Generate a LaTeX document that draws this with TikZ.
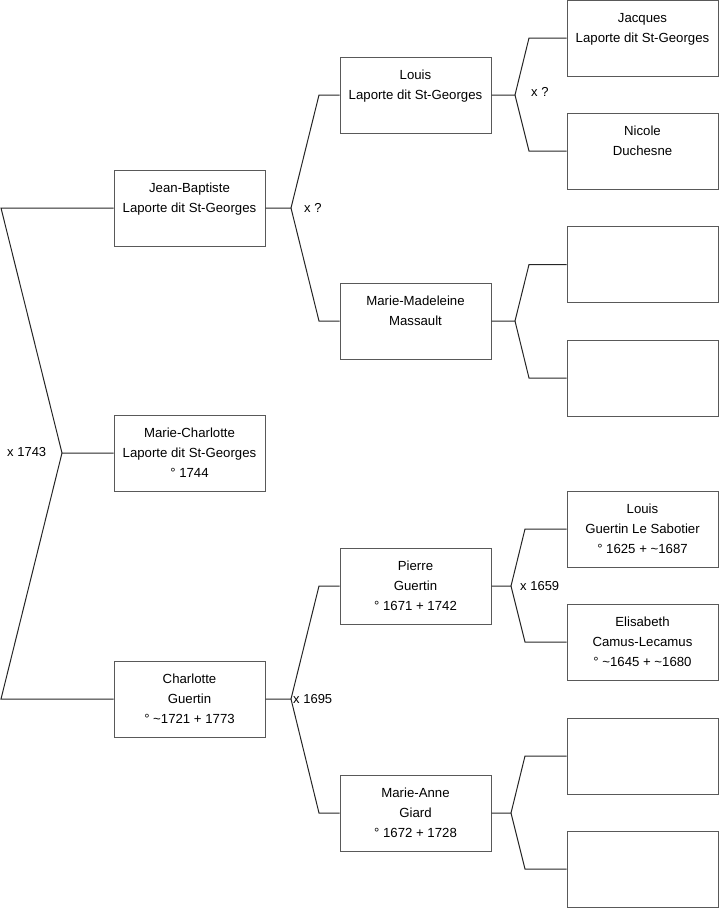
\documentclass[tikz,border=0pt]{standalone}
\usepackage{fontspec}
\setmainfont{Liberation Sans}
\begin{document}
\begin{tikzpicture}[x=1pt,y=-1pt,
  person/.style={draw=black!65, line width=1pt, fill=white, minimum width=151pt, minimum height=76pt, inner sep=0pt, align=center, font=\fontsize{13.2}{20}\selectfont},
  link/.style={draw=black!85, line width=1pt},
  marr/.style={font=\fontsize{13}{15}\selectfont, inner sep=0pt, anchor=west}]
\useasboundingbox (0,0) rectangle (719,908);
% generation 1
\node[person] (jb) at (189.5,208) {Jean-Baptiste\\Laporte dit St-Georges\\\mbox{}};
\node[person] (mc) at (189.5,453) {Marie-Charlotte\\Laporte dit St-Georges\\° 1744};
\node[person] (ch) at (189.5,699) {Charlotte\\Guertin\\° \textasciitilde1721 + 1773};
% generation 2
\node[person] (lo) at (415.5,95) {Louis\\Laporte dit St-Georges\\\mbox{}};
\node[person] (mm) at (415.5,321) {Marie-Madeleine\\Massault\\\mbox{}};
\node[person] (pi) at (415.5,586) {Pierre\\Guertin\\° 1671 + 1742};
\node[person] (ma) at (415.5,813) {Marie-Anne\\Giard\\° 1672 + 1728};
% generation 3
\node[person] (ja) at (642.5,38) {Jacques\\Laporte dit St-Georges\\\mbox{}};
\node[person] (ni) at (642.5,151) {Nicole\\Duchesne\\\mbox{}};
\node[person] (e1) at (642.5,264.5) {};
\node[person] (e2) at (642.5,378) {};
\node[person] (lg) at (642.5,529) {Louis\\Guertin Le Sabotier\\° 1625 + \textasciitilde1687};
\node[person] (el) at (642.5,642) {Elisabeth\\Camus-Lecamus\\° \textasciitilde1645 + \textasciitilde1680};
\node[person] (e3) at (642.5,756) {};
\node[person] (e4) at (642.5,869) {};
% fork points
\coordinate (f0) at (62,453);
\coordinate (f0a) at (1,208);
\coordinate (f0b) at (1,699);
\coordinate (f1) at (291,208);
\coordinate (f1a) at (319,95);
\coordinate (f1b) at (319,321);
\coordinate (f2) at (291,699);
\coordinate (f2a) at (319,586);
\coordinate (f2b) at (319,813);
\coordinate (f3) at (515,95);
\coordinate (f3a) at (529,38);
\coordinate (f3b) at (529,151);
\coordinate (f4) at (515,321);
\coordinate (f4a) at (529,264.5);
\coordinate (f4b) at (529,378);
\coordinate (f5) at (511,586);
\coordinate (f5a) at (525,529);
\coordinate (f5b) at (525,642);
\coordinate (f6) at (511,813);
\coordinate (f6a) at (525,756);
\coordinate (f6b) at (525,869);
% connectors
\draw[link] (mc.west) -- (f0) -- (f0a) -- (jb.west);
\draw[link] (f0) -- (f0b) -- (ch.west);
\draw[link] (jb.east) -- (f1) -- (f1a) -- (lo.west);
\draw[link] (f1) -- (f1b) -- (mm.west);
\draw[link] (ch.east) -- (f2) -- (f2a) -- (pi.west);
\draw[link] (f2) -- (f2b) -- (ma.west);
\draw[link] (lo.east) -- (f3) -- (f3a) -- (ja.west);
\draw[link] (f3) -- (f3b) -- (ni.west);
\draw[link] (mm.east) -- (f4) -- (f4a) -- (e1.west);
\draw[link] (f4) -- (f4b) -- (e2.west);
\draw[link] (pi.east) -- (f5) -- (f5a) -- (lg.west);
\draw[link] (f5) -- (f5b) -- (el.west);
\draw[link] (ma.east) -- (f6) -- (f6a) -- (e3.west);
\draw[link] (f6) -- (f6b) -- (e4.west);
% marriage labels
\node[marr] (m0) at (7,452) {x 1743};
\node[marr] (m1) at (304,208) {x ?};
\node[marr] (m2) at (293,699) {x 1695};
\node[marr] (m3) at (531,92) {x ?};
\node[marr] (m4) at (520,586) {x 1659};
\end{tikzpicture}
\end{document}
